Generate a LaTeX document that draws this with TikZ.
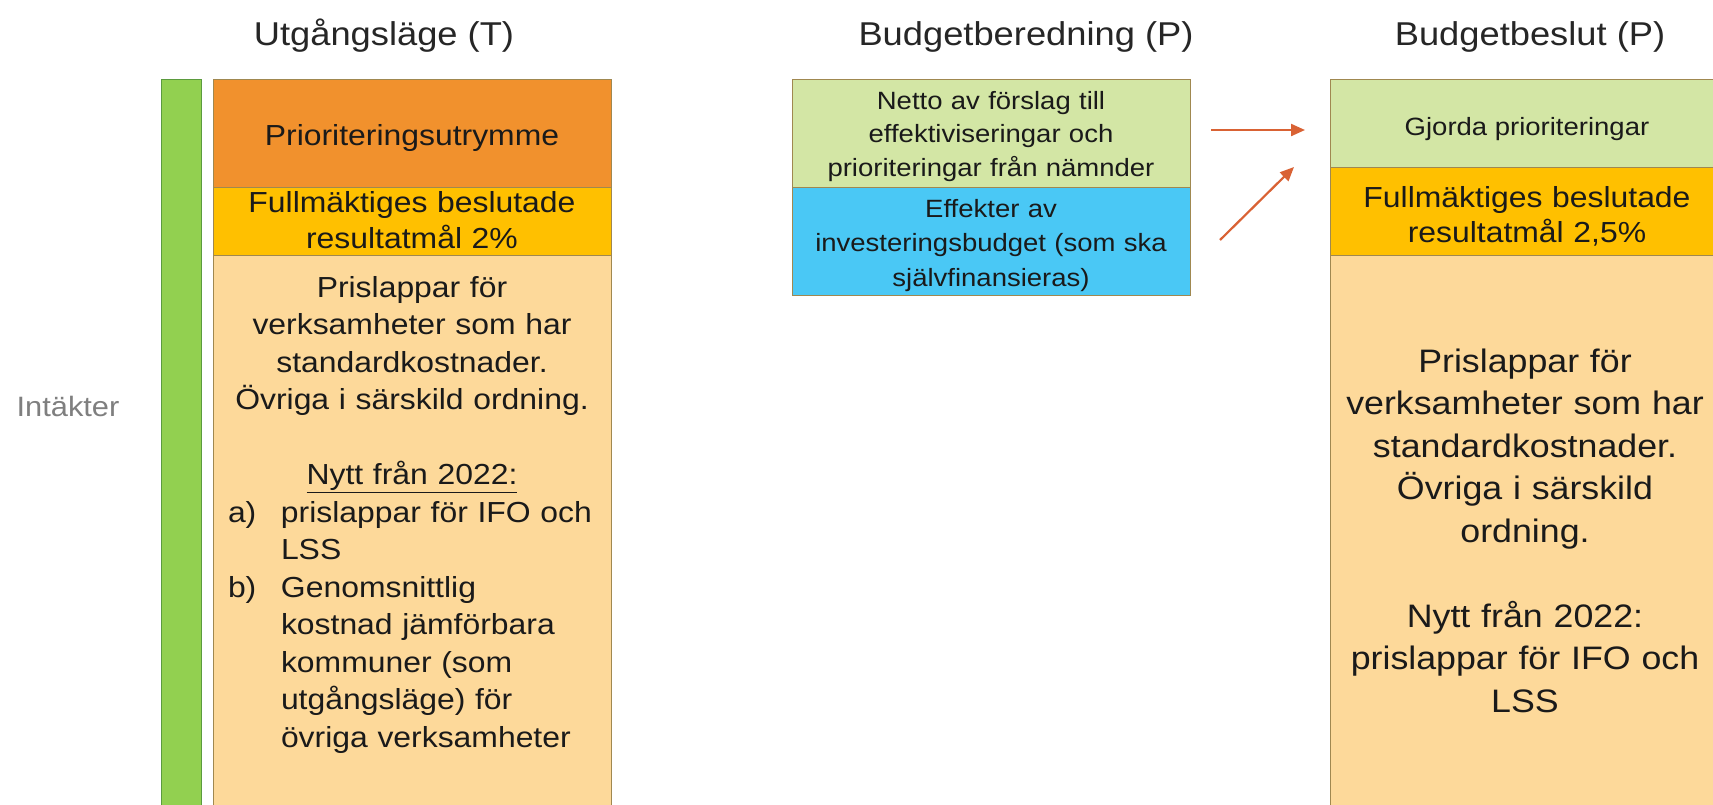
\documentclass[tikz,border=0pt]{standalone}
\usepackage{fontspec}
\setmainfont{Liberation Sans}[FakeStretch=1.1]
\usetikzlibrary{arrows.meta}
\definecolor{prio}{HTML}{F1912D}
\definecolor{gold}{HTML}{FFC000}
\definecolor{peach}{HTML}{FDD99A}
\definecolor{lgreen}{HTML}{D3E6A5}
\definecolor{sky}{HTML}{4AC8F5}
\definecolor{barg}{HTML}{92D050}
\definecolor{bargline}{HTML}{5B9B3E}
\definecolor{boxline}{HTML}{A08850}
\definecolor{arr}{HTML}{D96234}
\definecolor{ttl}{HTML}{262626}
\definecolor{ink}{HTML}{1A1A1A}
\definecolor{gry}{HTML}{7F7F7F}
\begin{document}
\begin{tikzpicture}[x=1pt,y=-1pt,
  box/.style={draw=boxline, line width=1.2pt, inner sep=0pt, anchor=north west},
  lbl/.style={inner sep=0pt, anchor=base, text=ink},
  ttlstyle/.style={inner sep=0pt, anchor=base, text=ttl, font=\fontsize{33}{40}\selectfont},
  conn/.style={draw=arr, line width=2.2pt, -{Triangle[length=14pt,width=12pt]}}
]
\useasboundingbox (0,0) rectangle (1713,804);
\fill[white] (0,0) rectangle (1713,804);

% titles
\node[ttlstyle] (t1) at (384,45) {Utgångsläge (T)};
\node[ttlstyle] (t2) at (1026,45) {Budgetberedning (P)};
\node[ttlstyle] (t3) at (1530,45) {Budgetbeslut (P)};

% left column
\node[inner sep=0pt, text=gry, anchor=base, font=\fontsize{28}{34}\selectfont] (intak) at (68,416) {Intäkter};
\node[box, draw=bargline, fill=barg, minimum width=40pt, minimum height=740pt] (bar) at (161,79) {};
\node[box, fill=prio, minimum width=398pt, minimum height=108pt] (prio) at (213,79) {};
\node[box, fill=gold, minimum width=398pt, minimum height=68pt] (full1) at (213,187) {};
\node[box, fill=peach, minimum width=398pt, minimum height=560pt] (low1) at (213,255) {};

\node[lbl, font=\fontsize{29}{36}\selectfont] (prioT) at (412,145) {Prioriteringsutrymme};
\node[lbl, align=center, text width=390pt, font=\fontsize{29}{36}\selectfont] (full1T) at (412,212) {Fullmäktiges beslutade\\resultatmål 2\%};
\node[lbl, text width=368pt, font=\fontsize{29}{37.5}\selectfont] (low1T) at (412,297) {%
{\centering Prislappar för\\verksamheter som har\\standardkostnader.\\Övriga i särskild ordning.\\[37.5pt]\underline{Nytt från 2022:}\par}%
\hangindent=53pt\hangafter=1\makebox[53pt][l]{a)}prislappar för IFO och\newline LSS\par
\hangindent=53pt\hangafter=1\makebox[53pt][l]{b)}Genomsnittlig\newline kostnad jämförbara\newline kommuner (som\newline utgångsläge) för\newline övriga verksamheter\par};

% middle column
\node[box, fill=lgreen, minimum width=398pt, minimum height=108pt] (netto) at (792,79) {};
\node[box, fill=sky, minimum width=398pt, minimum height=108pt] (eff) at (792,187) {};
\node[lbl, align=center, text width=390pt, font=\fontsize{25}{33.5}\selectfont] (nettoT) at (991,109) {Netto av förslag till\\effektiviseringar och\\prioriteringar från nämnder};
\node[lbl, align=center, text width=390pt, font=\fontsize{25}{34.5}\selectfont] (effT) at (991,217) {Effekter av\\investeringsbudget (som ska\\självfinansieras)};

% right column
\node[box, fill=lgreen, minimum width=400pt, minimum height=88pt] (gjorda) at (1330,79) {};
\node[box, fill=gold, minimum width=400pt, minimum height=88pt] (full2) at (1330,167) {};
\node[box, fill=peach, minimum width=400pt, minimum height=560pt] (low2) at (1330,255) {};
\node[lbl, font=\fontsize{25}{30}\selectfont] (gjT) at (1527,135) {Gjorda prioriteringar};
\node[lbl, align=center, text width=390pt, font=\fontsize{29}{35}\selectfont] (full2T) at (1527,207) {Fullmäktiges beslutade\\resultatmål 2,5\%};
\node[lbl, align=center, text width=390pt, font=\fontsize{32.5}{42.5}\selectfont] (low2T) at (1525,372) {Prislappar för\\verksamheter som har\\standardkostnader.\\Övriga i särskild\\ordning.\\[42.5pt]Nytt från 2022:\\prislappar för IFO och\\LSS};

% arrows
\coordinate (a1s) at (1211,130);
\coordinate (a1e) at (1305,130);
\coordinate (a2s) at (1220,240);
\coordinate (a2e) at (1294,167);
\draw[conn] (a1s) -- (a1e);
\draw[conn] (a2s) -- (a2e);
\end{tikzpicture}
\end{document}
